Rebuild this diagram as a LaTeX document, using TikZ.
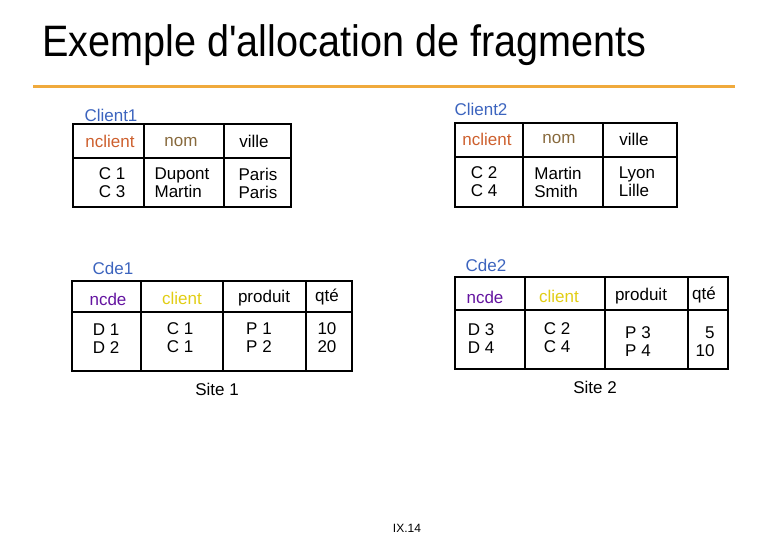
\documentclass[tikz,border=0pt]{standalone}
\usepackage{fontspec}
\setmainfont{Liberation Sans}
\definecolor{lblue}{RGB}{60,100,190}
\definecolor{orng}{RGB}{205,95,45}
\definecolor{brwn}{RGB}{135,105,60}
\definecolor{purp}{RGB}{100,20,160}
\definecolor{yell}{RGB}{225,205,20}
\definecolor{bar}{RGB}{240,170,60}
\begin{document}
\begin{tikzpicture}[x=1pt,y=-1pt,
  tbl/.style={draw,line width=1.6pt},
  cell/.style={font=\fontsize{17}{18}\selectfont,align=left,inner sep=0pt},
  lbl/.style={font=\fontsize{17}{18}\selectfont,text=lblue,inner sep=0pt},
  site/.style={font=\fontsize{17}{18}\selectfont,inner sep=0pt}]
\useasboundingbox (0,0) rectangle (780,540);
\node[inner sep=0pt,anchor=west,font=\fontsize{40}{42}\selectfont,xscale=0.99,yscale=1.1] (title) at (42,45) {Exemple d\textquotesingle allocation de fragments};
\draw[bar,line width=3pt] (33,87) -- (735,87);
% Client1
\node[lbl] (c1) at (111,115) {Client1};
\draw[tbl] (73,124) rectangle (291,207);
\draw[tbl] (73,158) -- (291,158) (144,124) -- (144,207) (224,124) -- (224,207);
\node[cell,text=orng] (c1a) at (110,141) {nclient};
\node[cell,text=brwn] (c1b) at (181,142) {nom};
\node[cell] (c1c) at (254,141) {ville};
\node[cell] (c1d) at (112,183) {C 1\\C 3};
\node[cell] (c1e) at (182,183) {Dupont\\Martin};
\node[cell] (c1f) at (258,183) {Paris\\Paris};
% Client2
\node[lbl] (c2) at (481,109) {Client2};
\draw[tbl] (455,123) rectangle (677,207);
\draw[tbl] (455,157) -- (677,157) (523,123) -- (523,207) (603,123) -- (603,207);
\node[cell,text=orng] (c2a) at (487,139) {nclient};
\node[cell,text=brwn] (c2b) at (559,139) {nom};
\node[cell] (c2c) at (634,139) {ville};
\node[cell] (c2d) at (484,182) {C 2\\C 4};
\node[cell] (c2e) at (558,182) {Martin\\Smith};
\node[cell] (c2f) at (637,182) {Lyon\\Lille};
% Cde1
\node[lbl] (d1) at (113,268) {Cde1};
\draw[tbl] (72,281) rectangle (352,371);
\draw[tbl] (72,312) -- (352,312) (141,281) -- (141,371) (223,281) -- (223,371) (306,281) -- (306,371);
\node[cell,text=purp] (d1a) at (108,299) {ncde};
\node[cell,text=yell] (d1b) at (182,298) {client};
\node[cell] (d1c) at (264,298) {produit};
\node[cell] (d1d) at (327,297) {qté};
\node[cell] (d1e) at (106,339) {D 1\\D 2};
\node[cell] (d1f) at (180,338) {C 1\\C 1};
\node[cell] (d1g) at (259,338) {P 1\\P 2};
\node[cell] (d1h) at (327,338) {10\\20};
% Cde2
\node[lbl] (d2) at (486,265) {Cde2};
\draw[tbl] (455,277) rectangle (728,369);
\draw[tbl] (455,310) -- (728,310) (525,277) -- (525,369) (605,277) -- (605,369) (688,277) -- (688,369);
\node[cell,text=purp] (d2a) at (485,297) {ncde};
\node[cell,text=yell] (d2b) at (559,296) {client};
\node[cell] (d2c) at (641,296) {produit};
\node[cell] (d2d) at (704,295) {qté};
\node[cell] (d2e) at (481,339) {D 3\\D 4};
\node[cell] (d2f) at (557,338) {C 2\\C 4};
\node[cell] (d2g) at (638,342) {P 3\\P 4};
\node[cell,align=right] (d2h) at (705,342) {5\\10};
\node[site] (s1) at (217,389) {Site 1};
\node[site] (s2) at (595,387) {Site 2};
\node[inner sep=0pt,font=\fontsize{12}{13}\selectfont] (pg) at (407,528) {IX.14};
\end{tikzpicture}
\end{document}
